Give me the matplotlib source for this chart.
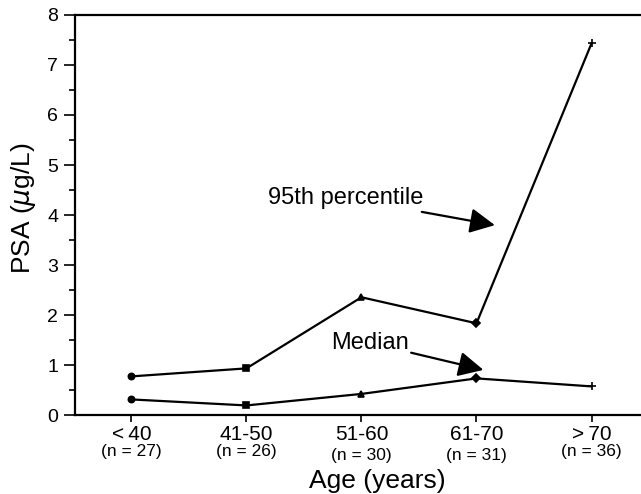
import matplotlib
matplotlib.use("Agg")
import matplotlib.pyplot as plt
from matplotlib.ticker import MultipleLocator

plt.rcParams['font.family'] = ['Liberation Sans', 'DejaVu Sans']

age_groups = ['<\u200940', '41-50', '51-60', '61-70', '>\u200970']
n_labels = ['(n = 27)', '(n = 26)', '(n = 30)', '(n = 31)', '(n = 36)']
pct95 = [0.78, 0.94, 2.36, 1.84, 7.43]
median = [0.32, 0.20, 0.43, 0.74, 0.58]
markers = ['o', 's', '^', 'D', '+']

fig = plt.figure(figsize=(6.41, 4.94), dpi=100)
ax = fig.add_axes([0.117, 0.159, 0.883, 0.811])

x = list(range(len(age_groups)))
for series in (pct95, median):
    ax.plot(x, series, color='black', lw=1.6, zorder=2)
    for xi, yi, m in zip(x, series, markers):
        ax.plot(xi, yi, marker=m, color='black', ms=4.5 if m != '+' else 6,
                mew=1.2, zorder=3)

ax.set_xlim(-0.49, 4.43)
ax.set_ylim(0, 8)
ax.yaxis.set_major_locator(MultipleLocator(1))
ax.yaxis.set_minor_locator(MultipleLocator(0.5))
ax.set_xticks(x)
ax.set_xticklabels(age_groups, fontsize=15)
ax.tick_params(axis='y', which='major', length=8, width=1.2, labelsize=14, pad=4)
ax.tick_params(axis='y', which='minor', length=4, width=1.2)
ax.tick_params(axis='x', length=5, width=1.2, pad=2)

# sample sizes under the age groups
for i, lab in enumerate(n_labels):
    dy = -0.10 if i in (2, 3) else -0.091
    ax.text(i, dy, lab, transform=ax.get_xaxis_transform(), ha='center',
            va='center', fontsize=12.5)

ax.spines['right'].set_visible(False)
for s in ('left', 'bottom', 'top'):
    ax.spines[s].set_linewidth(1.6)

ax.set_ylabel(r'PSA ($\mu$g/L)', fontsize=19)
ax.yaxis.set_label_coords(-0.065, 0.518)
ax.set_xlabel('Age (years)', fontsize=19)
ax.xaxis.set_label_coords(0.534, -0.133)

arrow = dict(arrowstyle='-|>,head_length=0.9,head_width=0.45', color='black',
             lw=1.6, shrinkA=0, shrinkB=0)
ax.annotate('95th percentile', xy=(3.16, 3.80), xytext=(1.865, 4.34),
            fontsize=17, ha='center', va='center', arrowprops=arrow)
ax.annotate('Median', xy=(3.06, 0.91), xytext=(2.07, 1.45),
            fontsize=17, ha='center', va='center', arrowprops=arrow)

fig.savefig('out.png', dpi=100)
